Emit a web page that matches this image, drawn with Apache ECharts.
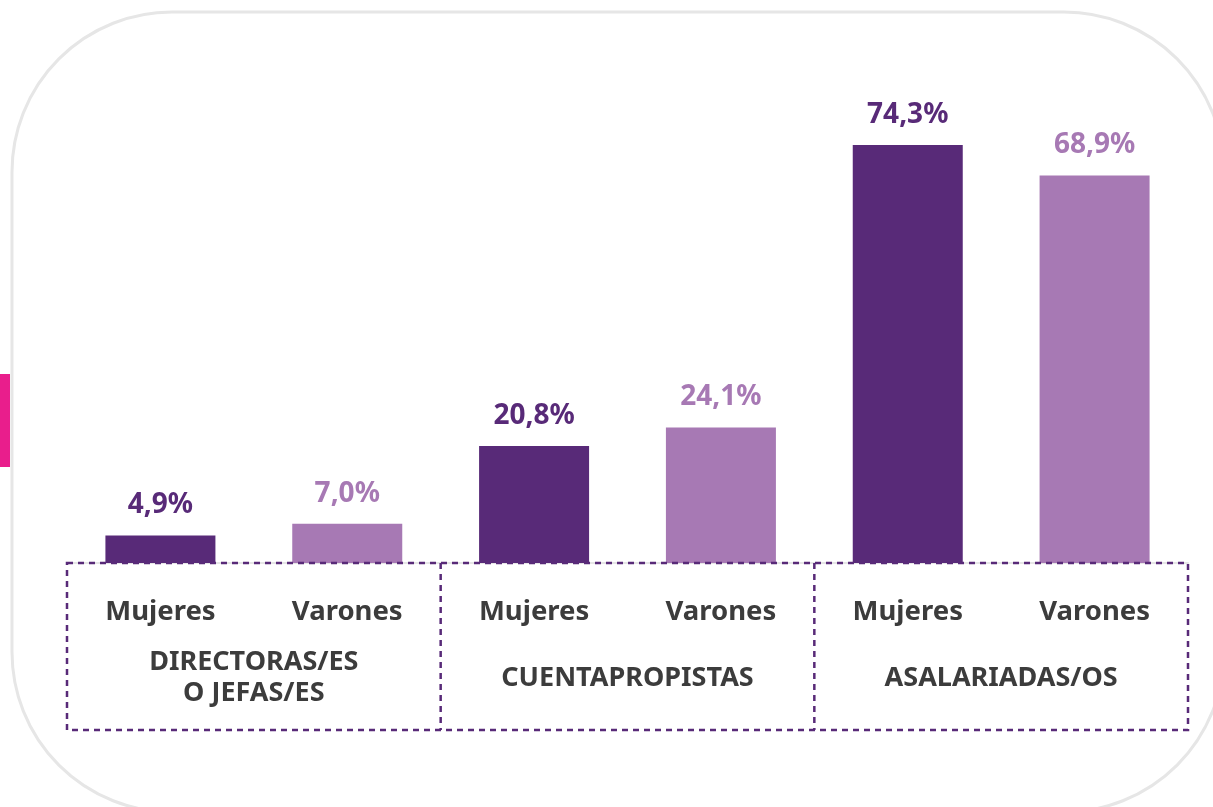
<!DOCTYPE html>
<html>
<head>
<meta charset="utf-8">
<style>
  html, body { margin: 0; padding: 0; background: #fff; }
  #chart { width: 1213px; height: 807px; }
</style>
<script src="https://cdn.jsdelivr.net/npm/echarts@6/dist/echarts.min.js"></script>
</head>
<body>
<div id="chart"></div>
<script>
// datos
const groups = ['DIRECTORAS/ES\nO JEFAS/ES', 'CUENTAPROPISTAS', 'ASALARIADAS/OS']
const sexes = ['Mujeres', 'Varones']
const mujeres = [4.9, 20.8, 74.3]
const varones = [7.0, 24.1, 68.9]

const colorM = '#582a78'
const colorV = '#a779b4'
const textDark = '#3c3c3c'

// categorias intercaladas Mujeres / Varones por grupo
const categories = []
const barData = []
groups.forEach((g, i) => {
  categories.push(sexes[0], sexes[1])
  barData.push({ value: mujeres[i], itemStyle: { color: colorM }, label: { color: colorM } })
  barData.push({ value: varones[i], itemStyle: { color: colorV }, label: { color: colorV } })
})

const chart = echarts.init(document.getElementById('chart'))

const gridLeft = 67
const gridRight = 25
const baseY = 563
const boxH = 167
const plotW = 1213 - gridLeft - gridRight

const option = {
  animation: false,
  textStyle: { fontFamily: 'Noto Sans' },
  grid: { left: gridLeft, right: gridRight, top: 113, bottom: 807 - baseY },
  xAxis: [
    {
      type: 'category',
      data: categories,
      axisLine: { lineStyle: { color: '#e6e6e6', width: 2 } },
      axisTick: { show: false },
      axisLabel: { color: textDark, fontSize: 27.5, fontWeight: 'bold', margin: 35 }
    },
    {
      type: 'category',
      position: 'bottom',
      data: groups,
      axisLine: { show: false },
      axisTick: { show: false },
      axisLabel: {
        color: textDark, fontSize: 27, fontWeight: 'bold', lineHeight: 31,
        verticalAlign: 'middle', margin: 115
      }
    }
  ],
  yAxis: {
    type: 'value',
    min: 0,
    max: 80,
    show: false
  },
  series: [
    {
      type: 'bar',
      barWidth: 110,
      data: barData,
      label: {
        show: true,
        position: 'top',
        distance: 16,
        fontSize: 28,
        fontWeight: 'bold',
        formatter: p => p.value.toFixed(1).replace('.', ',') + '%'
      }
    }
  ],
  graphic: [
    {
      type: 'rect',
      shape: { x: 12, y: 12, width: 1212, height: 800, r: 160 },
      style: { fill: 'none', stroke: '#e6e6e6', lineWidth: 3 },
      z: -1
    },
    {
      type: 'rect',
      shape: { x: 0, y: 374, width: 10, height: 93 },
      style: { fill: '#e91e8c' }
    },
    {
      type: 'rect',
      shape: { x: gridLeft, y: baseY, width: plotW, height: boxH },
      style: { fill: 'none', stroke: colorM, lineWidth: 2.5, lineDash: [6, 5] },
      z: 10
    },
    {
      type: 'line',
      shape: { x1: gridLeft + plotW / 3, y1: baseY, x2: gridLeft + plotW / 3, y2: baseY + boxH },
      style: { stroke: colorM, lineWidth: 2.5, lineDash: [6, 5] },
      z: 10
    },
    {
      type: 'line',
      shape: { x1: gridLeft + plotW * 2 / 3, y1: baseY, x2: gridLeft + plotW * 2 / 3, y2: baseY + boxH },
      style: { stroke: colorM, lineWidth: 2.5, lineDash: [6, 5] },
      z: 10
    }
  ]
}

chart.setOption(option)
</script>
</body>
</html>
